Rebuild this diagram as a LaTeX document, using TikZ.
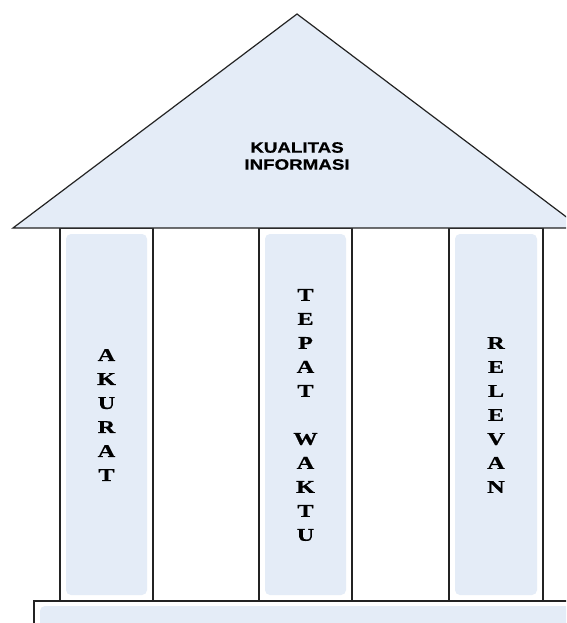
\documentclass[tikz,border=0pt]{standalone}
\usepackage{fontspec}
\newfontfamily\headfont[FakeStretch=1.25,FakeBold=0.6]{Liberation Sans}
\newfontfamily\pillarfont[FakeStretch=1.35,FakeBold=0.6]{Liberation Serif}
\definecolor{roof}{RGB}{228,236,247}
\definecolor{edge}{RGB}{35,35,35}
\begin{document}
\begin{tikzpicture}[x=1pt,y=-1pt,
  outline/.style={draw=edge, line width=1.2pt},
  panel/.style={fill=roof, draw=none, rounded corners=5pt},
  pillartext/.style={font=\pillarfont\bfseries\fontsize{18}{24}\selectfont, align=center, inner sep=0pt},
  headtext/.style={font=\headfont\bfseries\fontsize{15}{17}\selectfont, align=center, inner sep=0pt}]
\useasboundingbox (0,0) rectangle (566,623);
\fill[white] (0,0) rectangle (566,623);
\begin{scope}
\clip (0,0) rectangle (566,623);
% pillars
\foreach \l/\r in {60/153, 259/352, 449/543}{
  \fill[panel] ({\l+6},234) rectangle ({\r-6},595);
  \draw[outline] (\l,228) rectangle (\r,601);
}
% roof
\path[fill=roof, outline, line join=miter] (13,228) -- (297,14) -- (581,228) -- cycle;
% base
\fill[panel] (40,606) rectangle (620,650);
\draw[outline] (34,640) -- (34,601) -- (620,601);
\end{scope}
\node[headtext] (head) at (297,156) {KUALITAS\\INFORMASI};
\node[pillartext] (akurat) at (106.5,415) {A\\K\\U\\R\\A\\T};
\node[pillartext] (tepat) at (305.5,415) {T\\E\\P\\A\\T\\[24pt]W\\A\\K\\T\\U};
\node[pillartext] (relevan) at (496,415) {R\\E\\L\\E\\V\\A\\N};
\end{tikzpicture}
\end{document}
